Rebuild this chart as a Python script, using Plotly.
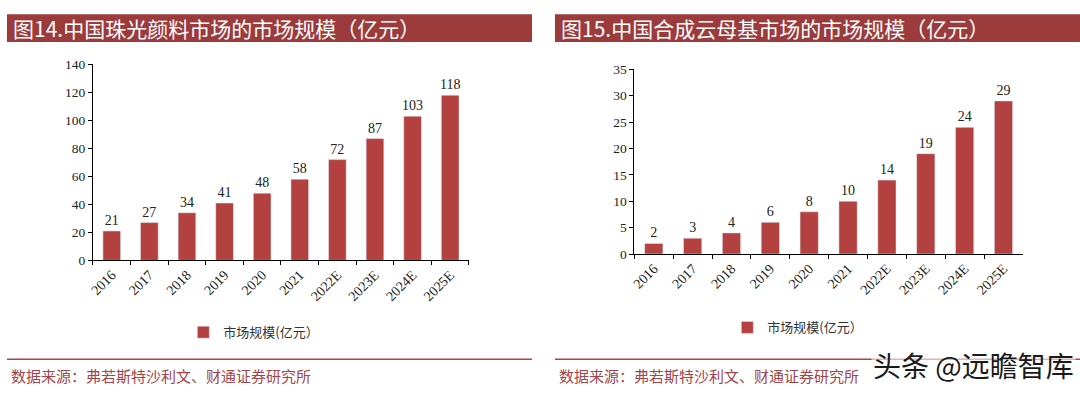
import plotly.graph_objects as go

W, H = 1080, 398

categories = ["2016", "2017", "2018", "2019", "2020", "2021", "2022E", "2023E", "2024E", "2025E"]
pearl_values = [21, 27, 34, 41, 48, 58, 72, 87, 103, 118]
mica_values = [2, 3, 4, 6, 8, 10, 14, 19, 24, 29]
left_ticks = [0, 20, 40, 60, 80, 100, 120, 140]
right_ticks = [0, 5, 10, 15, 20, 25, 30, 35]
series_name = "市场规模(亿元）"
title_left = "图14.中国珠光颜料市场的市场规模（亿元）"
title_right = "图15.中国合成云母基市场的市场规模（亿元）"
source_text = "数据来源：弗若斯特沙利文、财通证券研究所"
watermark = "头条 @远瞻智库"

BAR = "#B3413F"
TITLE_BG = "#9C3B3B"
SERIF = "Liberation Serif, Times New Roman, serif"
CJK = "Noto Sans CJK SC, sans-serif"

def px(x):
    return x / W

def py(y):
    return 1 - y / H

fig = go.Figure()
fig.add_trace(go.Bar(
    x=categories, y=pearl_values, name=series_name, marker_color=BAR,
    text=pearl_values, texttemplate="%{text}", textposition="outside",
    textfont=dict(family=SERIF, size=14, color="#222"), cliponaxis=False,
    constraintext="none",
    width=0.47, xaxis="x", yaxis="y", legend="legend"))
fig.add_trace(go.Bar(
    x=categories, y=mica_values, name=series_name, marker_color=BAR,
    text=mica_values, texttemplate="%{text}", textposition="outside",
    textfont=dict(family=SERIF, size=14, color="#222"), cliponaxis=False,
    constraintext="none",
    width=0.47, xaxis="x2", yaxis="y2", legend="legend2"))

axis_common = dict(showline=True, linecolor="#000", linewidth=1, ticks="outside",
                   ticklen=4, tickcolor="#000", showgrid=False, zeroline=False,
                   fixedrange=True)
yfont = dict(family=SERIF, size=13.5, color="#222")
xfont = dict(family=SERIF, size=14, color="#222")

fig.update_layout(
    width=W, height=H, margin=dict(l=0, r=0, t=0, b=0),
    paper_bgcolor="white", plot_bgcolor="white", bargap=0.5,
    xaxis=dict(domain=[px(89.3), px(466.7)], anchor="y", tickangle=-45,
               tickson="boundaries", tickfont=xfont, **axis_common),
    yaxis=dict(domain=[py(263.3), py(59.7)], anchor="x", range=[0, 140],
               tickvals=left_ticks, tickfont=yfont, **axis_common),
    xaxis2=dict(domain=[px(632.7), px(1022.7)], anchor="y2", tickangle=-45,
                tickson="boundaries", tickfont=xfont, **axis_common),
    yaxis2=dict(domain=[py(256.7), py(64.7)], anchor="x2", range=[0, 35],
                tickvals=right_ticks, tickfont=yfont, **axis_common),
    legend=dict(x=px(180), y=py(338), xanchor="left", yanchor="middle",
                font=dict(family=CJK, size=13, color="#333"), bgcolor="rgba(0,0,0,0)",
                itemwidth=30),
    legend2=dict(x=px(726), y=py(333), xanchor="left", yanchor="middle",
                 font=dict(family=CJK, size=13, color="#333"), bgcolor="rgba(0,0,0,0)",
                 itemwidth=30),
    showlegend=True,
)

shapes = []
annotations = []
for (x0, x1, title) in [(3, 530, title_left), (553, 1080, title_right)]:
    shapes.append(dict(type="rect", xref="paper", yref="paper", x0=px(x0), x1=px(x1),
                       y0=py(36.5), y1=py(7.5), fillcolor=TITLE_BG, line=dict(width=0), layer="below"))
    annotations.append(dict(text=title, xref="paper", yref="paper", x=px(x0 + 4), y=py(22),
                            xanchor="left", yanchor="middle", showarrow=False,
                            font=dict(family=CJK, size=21, color="white")))
    shapes.append(dict(type="line", xref="paper", yref="paper", x0=px(x0), x1=px(x1),
                       y0=py(366), y1=py(366), line=dict(color="#B3413F", width=1.5)))
    annotations.append(dict(text=source_text, xref="paper", yref="paper", x=px(x0 + 2), y=py(383),
                            xanchor="left", yanchor="middle", showarrow=False,
                            font=dict(family=CJK, size=15, color="#A2454B")))

annotations.append(dict(text=watermark, xref="paper", yref="paper", x=px(1076), y=py(372),
                        xanchor="right", yanchor="middle", showarrow=False,
                        bgcolor="rgba(255,255,255,0.6)",
                        font=dict(family=CJK, size=28, color="#1a1a1a")))

fig.update_layout(shapes=shapes, annotations=annotations)
fig.write_html("out.html", config={"displayModeBar": False},
               post_script="document.body.style.margin='0';document.body.style.overflow='hidden';")
